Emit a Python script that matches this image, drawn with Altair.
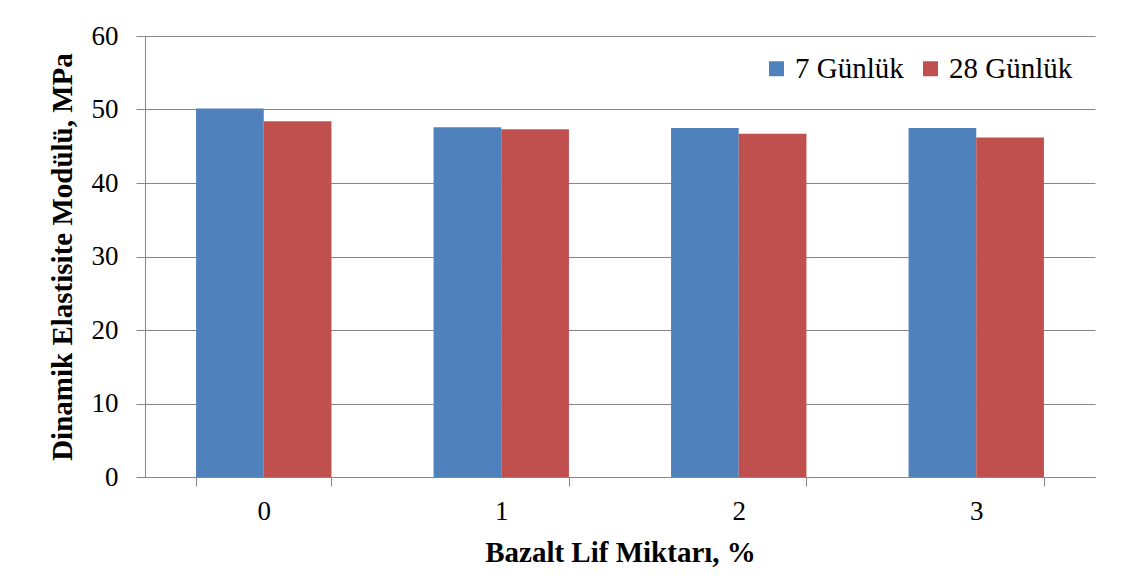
import altair as alt
import pandas as pd

categories = ["0", "1", "2", "3"]
series = ["7 Günlük", "28 Günlük"]
vals_7 = [50.15, 47.6, 47.5, 47.5]
vals_28 = [48.4, 47.3, 46.7, 46.2]
colors = ["#4F81BD", "#C0504D"]

rows = []
for c, a, b in zip(categories, vals_7, vals_28):
    rows.append({"cat": c, "seri": series[0], "val": a})
    rows.append({"cat": c, "seri": series[1], "val": b})
df = pd.DataFrame(rows)

font = "Liberation Serif"

chart = alt.Chart(df).mark_bar().encode(
    x=alt.X("cat:N", sort=categories,
            scale=alt.Scale(paddingInner=0.43, paddingOuter=0.215),
            axis=alt.Axis(title="Bazalt Lif Miktarı, %", labelAngle=0, tickBand="extent",
                          labelPadding=12, titlePadding=14, grid=False)),
    xOffset=alt.XOffset("seri:N", sort=series),
    y=alt.Y("val:Q", scale=alt.Scale(domain=[0, 60]),
            axis=alt.Axis(title="Dinamik Elastisite Modülü, MPa", values=[0, 10, 20, 30, 40, 50, 60],
                          labelPadding=18, titlePadding=14,
                          gridColor="#868686", gridWidth=1)),
    color=alt.Color("seri:N", sort=series,
                    scale=alt.Scale(domain=series, range=colors),
                    legend=alt.Legend(title=None, orient="none", direction="horizontal",
                                      legendX=617, legendY=18, symbolType="square",
                                      symbolSize=225, symbolStrokeWidth=0, symbolOpacity=1,
                                      labelFont=font, labelFontSize=29, labelColor="black",
                                      labelOffset=4, columnPadding=12)),
).properties(
    width=950, height=441,
    autosize=alt.AutoSizeParams(type="none"),
    padding={"left": 137, "top": 28, "right": 19, "bottom": 97},
).configure(font=font).configure_view(stroke=None).configure_axis(
    domainWidth=1, tickWidth=1, domainColor="#868686", tickColor="#868686", tickSize=9,
    labelFont=font, labelFontSize=27, labelColor="black",
    titleFont=font, titleFontSize=29, titleFontWeight="bold", titleColor="black",
)

chart.save("out.html", embed_options={"renderer": "svg", "actions": False})
